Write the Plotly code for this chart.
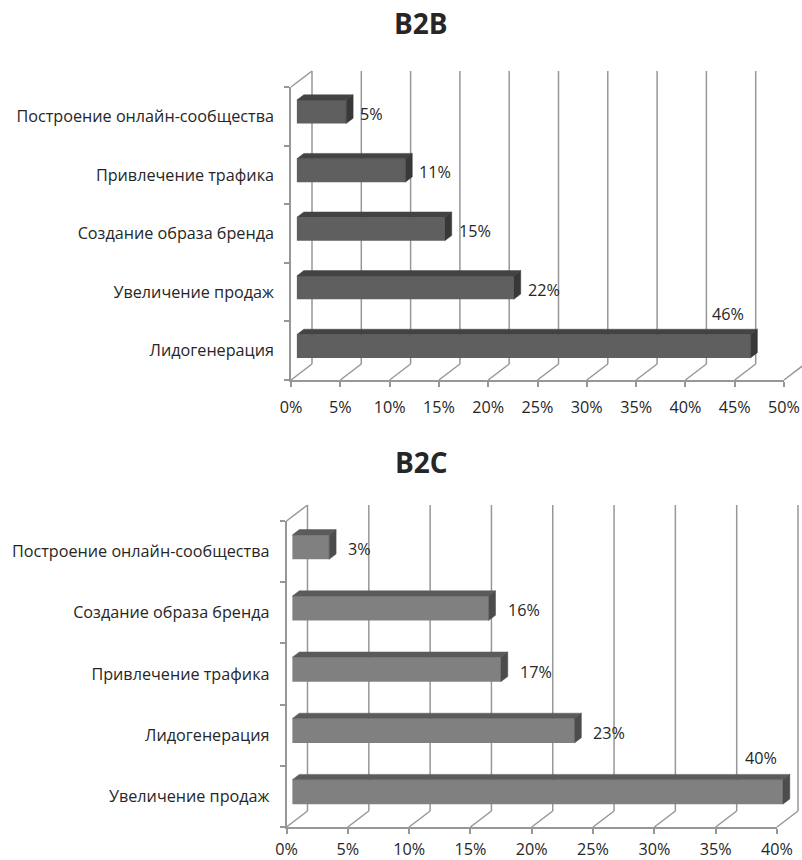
import plotly.graph_objects as go

W, H = 802, 860

# ---------------- data ----------------
b2b_title = "B2B"
b2b_categories = ["Лидогенерация", "Увеличение продаж", "Создание образа бренда",
                  "Привлечение трафика", "Построение онлайн-сообщества"]
b2b_values = [46, 22, 15, 11, 5]
b2b_ticks = [0, 5, 10, 15, 20, 25, 30, 35, 40, 45, 50]

b2c_title = "B2C"
b2c_categories = ["Увеличение продаж", "Лидогенерация", "Привлечение трафика",
                  "Создание образа бренда", "Построение онлайн-сообщества"]
b2c_values = [40, 23, 17, 16, 3]
b2c_ticks = [0, 5, 10, 15, 20, 25, 30, 35, 40]

# ---------------- style / geometry (pixels) ----------------
FONT = "Open Sans"
FS = 16.2
TXT = "#262626"
GRID = "#979797"

charts = [
    dict(title=b2b_title, cats=b2b_categories, vals=b2b_values, ticks=b2b_ticks,
         x0=291, x1=784, yf=380, yt=87, title_y=23, xstand=7,
         front="#5f5f5f", top="#434343", side="#383838", lshift=5, above=32),
    dict(title=b2c_title, cats=b2c_categories, vals=b2c_values, ticks=b2c_ticks,
         x0=286.5, x1=777, yf=827, yt=521, title_y=462, xstand=2,
         front="#808080", top="#5b5b5b", side="#4c4c4c", lshift=10, above=34),
]
DPX, DPY = 21, 16          # depth of the 3-D box in pixels
D0, BD = 0.28, 0.33        # bar front position / bar depth as fraction of box depth
BAR_H = 0.40               # bar thickness (category units)

fig = go.Figure()
layout = dict(width=W, height=H, autosize=False, margin=dict(l=0, r=0, t=0, b=0, pad=0),
              paper_bgcolor="white", plot_bgcolor="rgba(0,0,0,0)",
              showlegend=False, shapes=[], annotations=[])


def fx(px):
    return px / W


def fy(px):
    return 1 - px / H


for k, c in enumerate(charts):
    nF, nD = 2 * k + 1, 2 * k + 2
    xF = "x" if nF == 1 else f"x{nF}"
    yF = "y" if nF == 1 else f"y{nF}"
    xD, yD = f"x{nD}", f"y{nD}"
    xmax = c["ticks"][-1]
    n = len(c["cats"])
    ppx = (c["x1"] - c["x0"]) / xmax
    ppy = (c["yf"] - c["yt"]) / n
    DX, DY = DPX / ppx, DPY / ppy
    lo, hi = -0.5, n - 0.5

    # front axes (ticks, labels, front edges)
    layout["xaxis" if nF == 1 else f"xaxis{nF}"] = dict(
        domain=[fx(c["x0"]), fx(c["x1"])], range=[0, xmax], anchor=yF, automargin=False,
        showgrid=False, zeroline=False, showline=True, linecolor=GRID, linewidth=1.5,
        tickmode="array", tickvals=c["ticks"], ticktext=[f"{t}%" for t in c["ticks"]],
        ticks="outside", ticklen=5, tickcolor=GRID, tickwidth=1.5,
        ticklabelstandoff=c["xstand"],
        tickfont=dict(family=FONT, size=FS, color=TXT), fixedrange=True)
    layout["yaxis" if nF == 1 else f"yaxis{nF}"] = dict(
        domain=[fy(c["yf"]), fy(c["yt"])], range=[lo, hi], anchor=xF, automargin=False,
        showgrid=False, zeroline=False, showline=True, linecolor=GRID, linewidth=1.5,
        tickmode="array", tickvals=list(range(n)), ticktext=c["cats"],
        ticks="", ticklabelstandoff=12,
        minor=dict(tickmode="array", tickvals=[i - 0.5 for i in range(n + 1)],
                   ticks="outside", ticklen=5, tickcolor=GRID, tickwidth=1.5, showgrid=False),
        tickfont=dict(family=FONT, size=FS, color=TXT), fixedrange=True)
    fig.add_trace(go.Scatter(x=[None], y=[None], xaxis=xF, yaxis=yF, hoverinfo="skip"))

    # data axes covering the whole 3-D box
    pad = 10
    left_px, right_px = c["x0"] - pad, W
    bot_px, top_px = c["yf"] + pad, c["yt"] - DPY - pad
    layout[f"xaxis{nD}"] = dict(domain=[fx(left_px), fx(right_px)], automargin=False,
                                range=[(left_px - c["x0"]) / ppx, (right_px - c["x0"]) / ppx],
                                anchor=yD, visible=False, fixedrange=True)
    layout[f"yaxis{nD}"] = dict(domain=[fy(bot_px), fy(top_px)], automargin=False,
                                range=[lo - pad / ppy, hi + (DPY + pad) / ppy],
                                anchor=xD, visible=False, fixedrange=True)

    # back-wall gridlines and floor diagonals
    for t in c["ticks"]:
        layout["shapes"].append(dict(type="line", xref=xD, yref=yD, layer="below",
                                     x0=t + DX, x1=t + DX, y0=lo + DY, y1=hi + DY,
                                     line=dict(color=GRID, width=1.5)))
        layout["shapes"].append(dict(type="line", xref=xD, yref=yD, layer="below",
                                     x0=t, x1=t + DX, y0=lo, y1=lo + DY,
                                     line=dict(color=GRID, width=1.5)))
    # top-left diagonal of side wall
    layout["shapes"].append(dict(type="line", xref=xD, yref=yD, layer="below",
                                 x0=0, x1=DX, y0=hi, y1=hi + DY,
                                 line=dict(color=GRID, width=1.5)))

    # bars: front faces
    b = D0 * DX
    dyf = D0 * DY
    ys = list(range(n))
    fig.add_trace(go.Bar(orientation="h", x=c["vals"], y=ys, base=[b] * n,
                         width=BAR_H, offset=-BAR_H / 2 + dyf,
                         marker=dict(color=c["front"], line=dict(width=0)),
                         xaxis=xD, yaxis=yD, hoverinfo="skip"))
    # top and side faces
    for i, v in enumerate(c["vals"]):
        yb = i + dyf - BAR_H / 2
        yt = i + dyf + BAR_H / 2
        ddx, ddy = BD * DX, BD * DY
        fig.add_trace(go.Scatter(
            x=[b, b + v, b + v + ddx, b + ddx, b], y=[yt, yt, yt + ddy, yt + ddy, yt],
            mode="lines", fill="toself", fillcolor=c["top"], line=dict(width=0.5, color=c["top"]),
            xaxis=xD, yaxis=yD, hoverinfo="skip"))
        fig.add_trace(go.Scatter(
            x=[b + v, b + v, b + v + ddx, b + v + ddx, b + v], y=[yb, yt, yt + ddy, yb + ddy, yb],
            mode="lines", fill="toself", fillcolor=c["side"], line=dict(width=0.5, color=c["side"]),
            xaxis=xD, yaxis=yD, hoverinfo="skip"))
        # value labels
        if v > 0.85 * xmax:
            layout["annotations"].append(dict(
                xref=xD, yref=yD, x=b + v, y=i + dyf, xanchor="right", yanchor="middle",
                xshift=-4, yshift=c["above"], text=f"{v}%", showarrow=False,
                font=dict(family=FONT, size=FS, color=TXT)))
        else:
            layout["annotations"].append(dict(
                xref=xD, yref=yD, x=b + v + ddx, y=i + dyf, xanchor="left", yanchor="middle",
                xshift=c["lshift"], yshift=-2, text=f"{v}%", showarrow=False,
                font=dict(family=FONT, size=FS, color=TXT)))

    # title
    layout["annotations"].append(dict(
        xref="paper", yref="paper", x=fx(421), y=fy(c["title_y"]), xanchor="center",
        yanchor="middle", text=f"<b>{c['title']}</b>", showarrow=False,
        font=dict(family=FONT, size=28, color=TXT)))

fig.update_layout(**layout)
fig.write_html("out.html")
